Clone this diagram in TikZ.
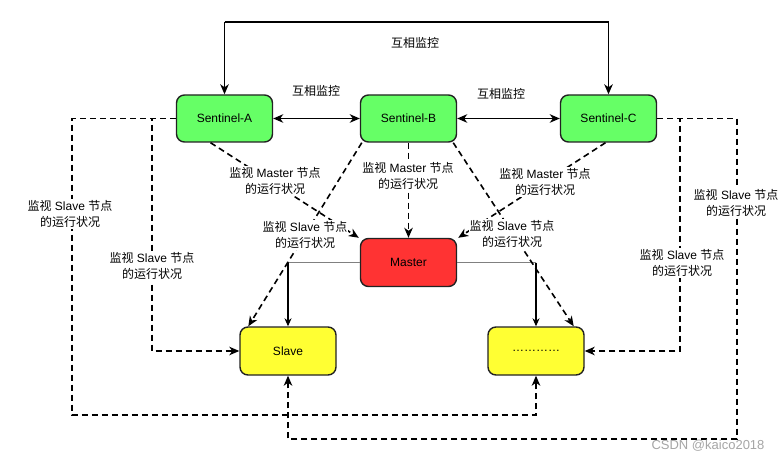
\documentclass[tikz,border=0pt]{standalone}
\usepackage{fontspec}
\setmainfont{Liberation Sans}
\newfontfamily\cjk{Noto Sans CJK SC}
\usetikzlibrary{arrows.meta}
\newcommand\zh[1]{{\cjk #1}}
\definecolor{sgreen}{HTML}{66FF66}
\definecolor{mred}{HTML}{FF3333}
\definecolor{syellow}{HTML}{FFFF33}
\definecolor{bord}{HTML}{222222}
\tikzset{
  boxnode/.style={draw=bord, line width=1.4pt, rounded corners=8pt, minimum width=96pt, minimum height=47pt, inner sep=0pt, font=\fontsize{12}{14}\selectfont},
  sentbox/.style={boxnode, fill=sgreen},
  masterbox/.style={boxnode, fill=mred},
  slavebox/.style={boxnode, fill=syellow, minimum height=48pt},
  tip/.style={-{Stealth[length=10pt,width=8.5pt,inset=3pt]}},
  bitip/.style={{Stealth[length=10pt,width=8.5pt,inset=3pt]}-{Stealth[length=10pt,width=8.5pt,inset=3pt]}},
  thintip/.style={-{Stealth[length=8pt,width=7pt,inset=2.5pt]}},
  solidln/.style={line width=1.6pt, black},
  dashln/.style={line width=1.6pt, black, dash pattern=on 6pt off 4pt},
  lbl/.style={fill=white, inner sep=1pt, align=center, font=\fontsize{12}{16}\selectfont},
  plainlbl/.style={inner sep=1pt, align=center, font=\fontsize{12}{16}\selectfont}
}
\begin{document}
\begin{tikzpicture}[x=1pt,y=-1pt]
\useasboundingbox (0,0) rectangle (783,462);
\fill[white] (0,0) rectangle (783,462);

% nodes
\node[sentbox] (A) at (224.5,118.5) {Sentinel-A};
\node[sentbox] (B) at (408.5,118.5) {Sentinel-B};
\node[sentbox] (C) at (608.5,118.5) {Sentinel-C};
\node[masterbox, minimum height=48pt] (M) at (408.5,262.5) {Master};
\node[slavebox] (S) at (288,351) {Slave};
\node[slavebox] (D) at (536,351) {…………};

% coordinates
\coordinate (topA) at (224.5,22);
\coordinate (topC) at (608.5,22);
\coordinate (ml) at (288,262.5);
\coordinate (mr) at (536,262.5);
\coordinate (la) at (152,351);
\coordinate (lb) at (72,415);
\coordinate (ra) at (680,351);
\coordinate (rb) at (737,439);

% solid connectors
\draw[solidln, tip] (topA) -- (topC) -- (C.north);
\draw[solidln, tip] (topA) -- (A.north);
\draw[solidln, bitip] (A.east) -- (B.west);
\draw[solidln, bitip] (B.east) -- (C.west);
\draw[gray, line width=1.1pt] (M.west) -- (ml);
\draw[gray, line width=1.1pt] (M.east) -- (mr);
\draw[black, line width=1.1pt, thintip] (ml) -- (S.north);
\draw[black, line width=1.1pt, thintip] (mr) -- (D.north);

% dashed connectors
\draw[dashln, tip] ([xshift=-14pt]A.south) -- ([xshift=-1pt]M.north west);
\draw[dashln, tip] (B.south) -- (M.north);
\draw[dashln, tip] ([xshift=-3pt]C.south) -- ([xshift=1pt]M.north east);
\draw[dashln, tip] ([xshift=2pt]B.south west) -- ([xshift=9pt]S.north west);
\draw[dashln, tip] ([xshift=-4pt]B.south east) -- ([xshift=-11pt]D.north east);
\draw[dashln, tip] (A.west) -| (la) -- (S.west);
\draw[dashln, tip] (A.west) -| (lb) -| (D.south);
\draw[dashln, tip] (C.east) -| (ra) -- (D.east);
\draw[dashln, tip] (C.east) -| (rb) -| (S.south);

% labels
\node[plainlbl] (l0) at (415,43) {\zh{互相监控}};
\node[plainlbl] (l1) at (316,91) {\zh{互相监控}};
\node[plainlbl] (l2) at (501,94) {\zh{互相监控}};
\node[lbl] (l3) at (275,181) {\zh{监视} Master \zh{节点}\\\zh{的运行状况}};
\node[lbl] (l4) at (408,176) {\zh{监视} Master \zh{节点}\\\zh{的运行状况}};
\node[lbl] (l5) at (545,182) {\zh{监视} Master \zh{节点}\\\zh{的运行状况}};
\node[lbl] (l6) at (305,235) {\zh{监视} Slave \zh{节点}\\\zh{的运行状况}};
\node[lbl] (l7) at (512,234) {\zh{监视} Slave \zh{节点}\\\zh{的运行状况}};
\node[lbl] (l8) at (70,214) {\zh{监视} Slave \zh{节点}\\\zh{的运行状况}};
\node[lbl] (l9) at (152,266) {\zh{监视} Slave \zh{节点}\\\zh{的运行状况}};
\node[lbl] (l10) at (682,263) {\zh{监视} Slave \zh{节点}\\\zh{的运行状况}};
\node[lbl] (l11) at (736,203) {\zh{监视} Slave \zh{节点}\\\zh{的运行状况}};

% watermark
\node[text=black!35, font=\fontsize{13}{15}\selectfont, inner sep=0pt] (wm) at (708,446) {CSDN @kaico2018};
\end{tikzpicture}
\end{document}
